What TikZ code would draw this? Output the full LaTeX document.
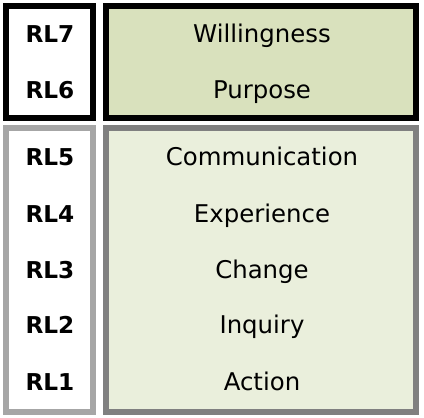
\documentclass[tikz,border=0pt]{standalone}
\usepackage{fontspec}
\setmainfont{DejaVu Sans}
\usepackage{tikz}
\usetikzlibrary{positioning}
\definecolor{topfill}{HTML}{D9E1BD}
\definecolor{lowfill}{HTML}{EAEFDC}
\definecolor{lgrey}{HTML}{A6A6A6}
\definecolor{dgrey}{HTML}{808080}
\tikzset{
  panel/.style={rectangle, line width=3pt, inner sep=0pt},
  lvlbox/.style={panel, draw=black, fill=white, minimum width=43.5pt, minimum height=56pt},
  topbox/.style={panel, draw=black, fill=topfill, minimum width=155pt, minimum height=56pt},
  lowlvl/.style={panel, draw=lgrey, fill=white, minimum width=43.5pt, minimum height=142pt},
  lowbox/.style={panel, draw=dgrey, fill=lowfill, minimum width=155pt, minimum height=142pt},
  lvl/.style={anchor=base, inner sep=0pt, font=\fontsize{11.6}{14}\selectfont\bfseries},
  stage/.style={anchor=base, inner sep=0pt, font=\fontsize{12.2}{14}\selectfont}
}
\begin{document}
\begin{tikzpicture}[x=0.5pt, y=-0.5pt]
  \useasboundingbox (0,0) rectangle (424,418);
  \node[lvlbox] (upleft) at (49.5,62) {};
  \node[topbox] (upright) at (261,62) {};
  \node[lowlvl] (lowleft) at (49.5,270) {};
  \node[lowbox] (lowright) at (261,270) {};
  % levels
  \node[lvl] (rl7) at (50,42) {RL7};
  \node[lvl] (rl6) at (50,98) {RL6};
  \node[lvl] (rl5) at (50,165) {RL5};
  \node[lvl] (rl4) at (50,222) {RL4};
  \node[lvl] (rl3) at (50,278) {RL3};
  \node[lvl] (rl2) at (50,333) {RL2};
  \node[lvl] (rl1) at (50,390) {RL1};
  % stages
  \node[stage] (will) at (262,42) {Willingness};
  \node[stage] (purp) at (262,98) {Purpose};
  \node[stage] (comm) at (262,165) {Communication};
  \node[stage] (expe) at (262,222) {Experience};
  \node[stage] (chng) at (262,278) {Change};
  \node[stage] (inqu) at (262,333) {Inquiry};
  \node[stage] (actn) at (262,390) {Action};
\end{tikzpicture}
\end{document}
